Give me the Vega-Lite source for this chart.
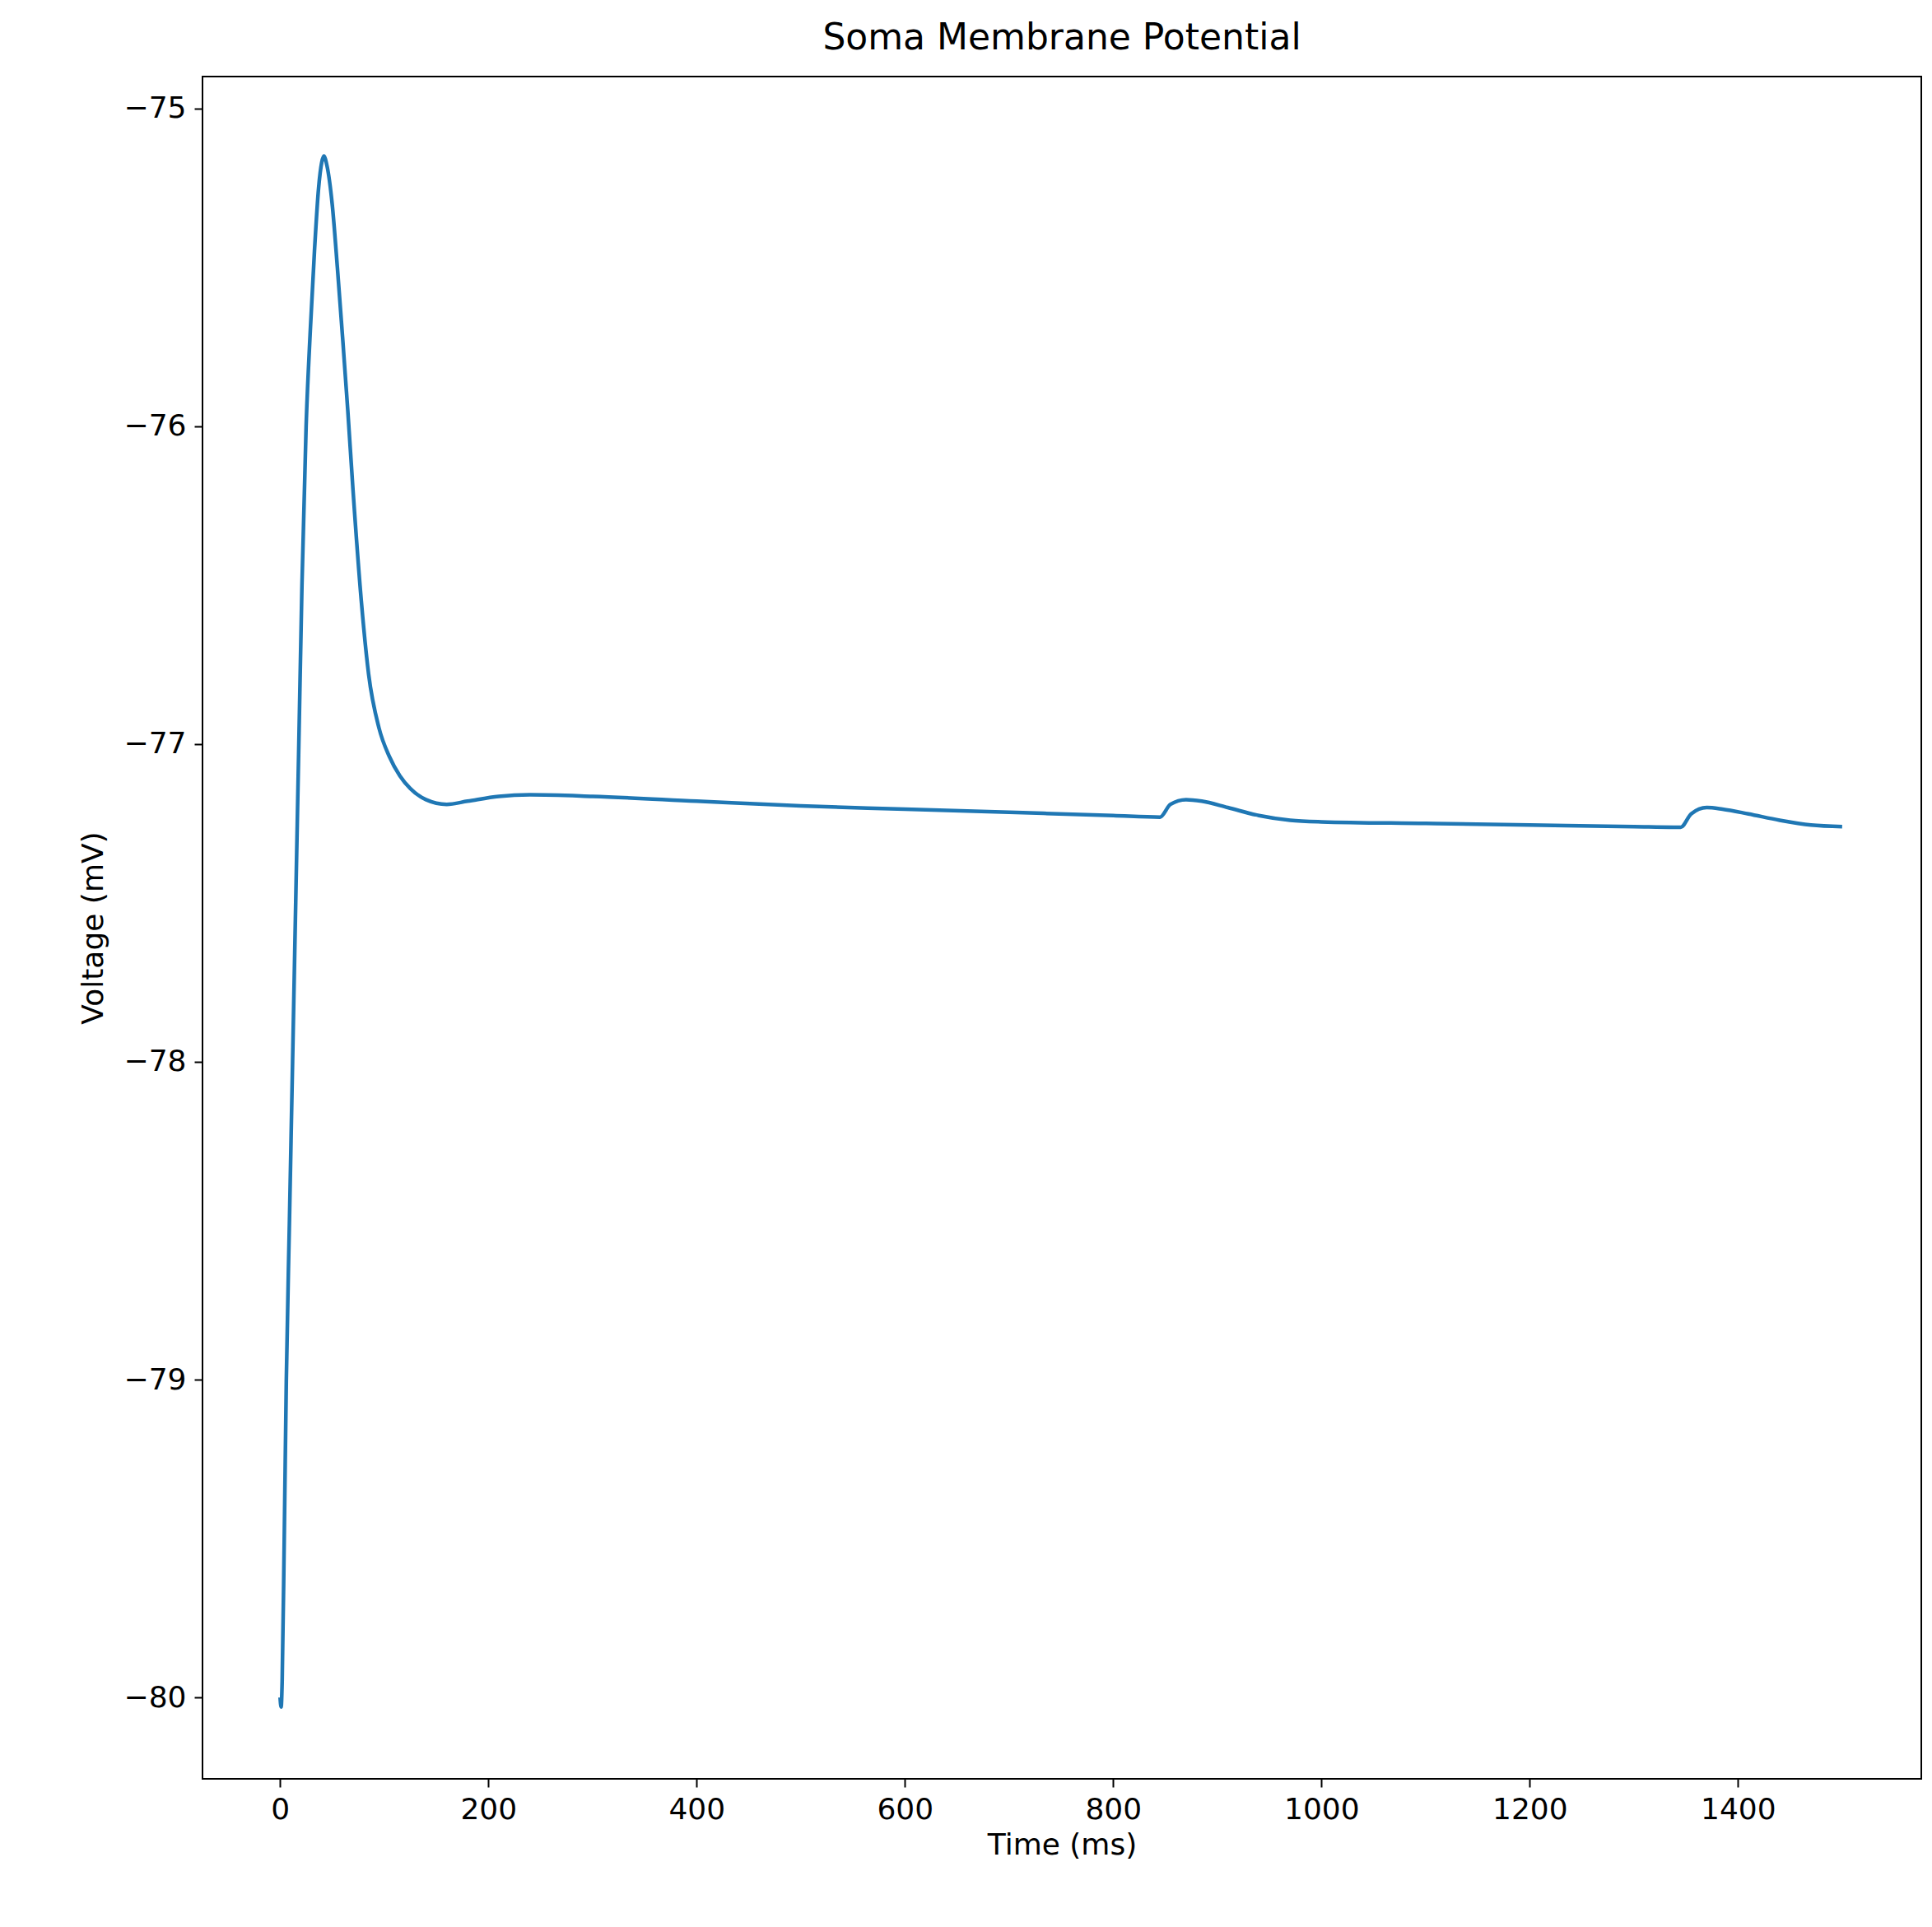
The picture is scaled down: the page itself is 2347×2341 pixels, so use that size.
{
"$schema":"https://vega.github.io/schema/vega-lite/v6.json",
"width":2088,"height":2068,
"padding":{"left":95,"top":25,"right":25,"bottom":10},
"background":"white",
"title":{"text":"Soma Membrane Potential","fontSize":44,"font":"DejaVu Sans","fontWeight":"normal","offset":24},
"config":{"view":{"stroke":"black","strokeWidth":2},"axis":{"labelFont":"DejaVu Sans","titleFont":"DejaVu Sans","labelFontSize":36,"titleFontSize":36,"titleFontWeight":"normal","grid":false,"domain":false,"tickColor":"black","tickSize":10,"tickWidth":2,"labelColor":"black","titleColor":"black","labelPadding":10}},
"data":{"values":[
{"t":0,"v":-80.0},{"t":1,"v":-80.03},{"t":2,"v":-79.95},{"t":4,"v":-79.5},{"t":6,"v":-79.0},{"t":9,"v":-78.5},{"t":12,"v":-78.0},{"t":15,"v":-77.5},{"t":18,"v":-77.0},{"t":21,"v":-76.5},{"t":25,"v":-76.0},{"t":29,"v":-75.7},{"t":33,"v":-75.45},{"t":37,"v":-75.25},{"t":40,"v":-75.17},{"t":42,"v":-75.15},{"t":45,"v":-75.18},{"t":50,"v":-75.3},{"t":55,"v":-75.5},{"t":60,"v":-75.72},{"t":65,"v":-75.95},{"t":70,"v":-76.2},{"t":78,"v":-76.55},{"t":85,"v":-76.78},{"t":95,"v":-76.95},{"t":105,"v":-77.04},{"t":115,"v":-77.1},{"t":125,"v":-77.14},{"t":140,"v":-77.175},{"t":160,"v":-77.19},{"t":180,"v":-77.18},{"t":210,"v":-77.165},{"t":240,"v":-77.16},{"t":300,"v":-77.165},{"t":400,"v":-77.18},{"t":500,"v":-77.195},{"t":600,"v":-77.205},{"t":700,"v":-77.215},{"t":800,"v":-77.225},{"t":845,"v":-77.23},{"t":855,"v":-77.19},{"t":870,"v":-77.175},{"t":885,"v":-77.18},{"t":910,"v":-77.2},{"t":940,"v":-77.225},{"t":970,"v":-77.24},{"t":1000,"v":-77.245},{"t":1100,"v":-77.25},{"t":1200,"v":-77.255},{"t":1300,"v":-77.26},{"t":1345,"v":-77.262},{"t":1355,"v":-77.22},{"t":1370,"v":-77.2},{"t":1385,"v":-77.205},{"t":1410,"v":-77.22},{"t":1440,"v":-77.24},{"t":1470,"v":-77.255},{"t":1500,"v":-77.26}
]},
"mark":{"type":"line","color":"#1f77b4","strokeWidth":4.5,"interpolate":"monotone","clip":true},
"encoding":{
"x":{"field":"t","type":"quantitative","title":"Time (ms)","scale":{"domain":[-74.5,1576],"nice":false,"zero":false},"axis":{"values":[0,200,400,600,800,1000,1200,1400],"format":"d","titlePadding":8}},
"y":{"field":"v","type":"quantitative","title":"Voltage (mV)","scale":{"domain":[-80.256,-74.9],"nice":false,"zero":false},"axis":{"values":[-80,-79,-78,-77,-76,-75],"labelExpr":"replace(datum.label,'-','−')","titlePadding":18}}
}
}
